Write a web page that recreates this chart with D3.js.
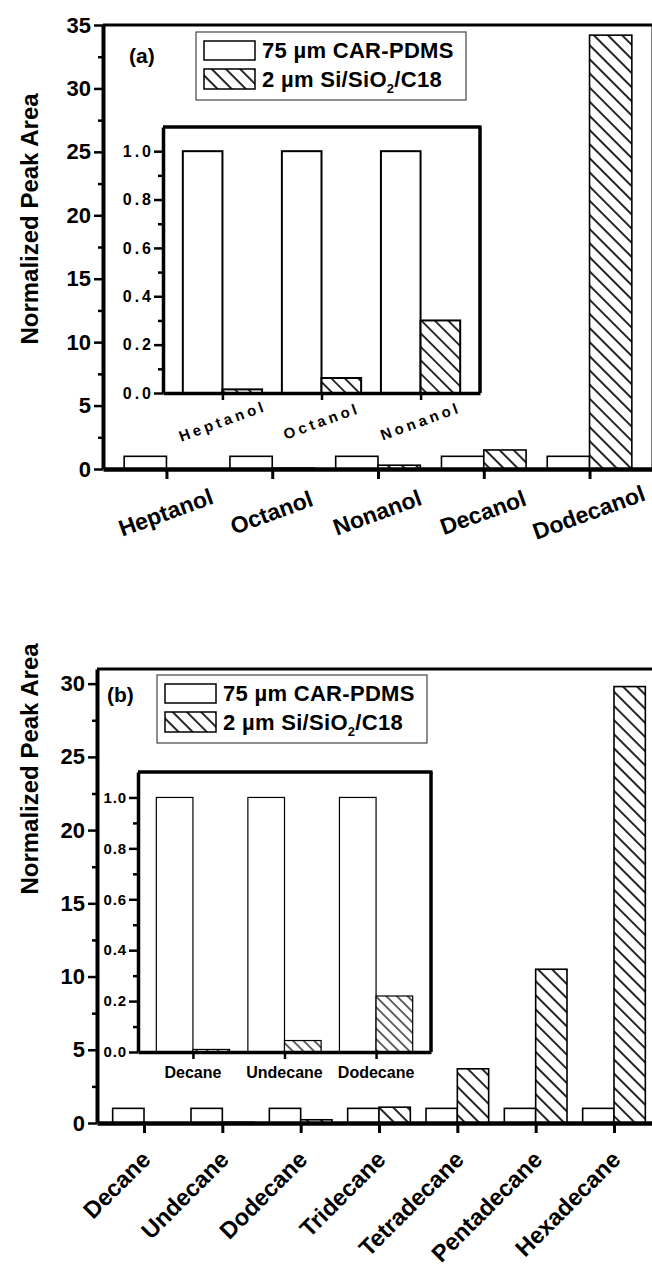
<!DOCTYPE html>
<html>
<head>
<meta charset="utf-8">
<script src="https://cdnjs.cloudflare.com/ajax/libs/d3/7.8.5/d3.min.js"></script>
<style>
  body { margin: 0; background: #fff; }
  text { font-family: "Liberation Sans", Arial, sans-serif; font-weight: bold; }
</style>
</head>
<body>
<script>
// values (normalized to CAR-PDMS = 1)
const alcohols = ["Heptanol", "Octanol", "Nonanol", "Decanol", "Dodecanol"];
const alcoholCar = [1, 1, 1, 1, 1];
const alcoholSi = [0.015, 0.065, 0.3, 1.5, 34.2];
const alcoholInset = ["Heptanol", "Octanol", "Nonanol"];
const alcoholInsetCar = [1, 1, 1];
const alcoholInsetSi = [0.015, 0.062, 0.3];

const alkanes = ["Decane", "Undecane", "Dodecane", "Tridecane", "Tetradecane", "Pentadecane", "Hexadecane"];
const alkaneCar = [1, 1, 1, 1, 1, 1, 1];
const alkaneSi = [0.008, 0.045, 0.22, 1.08, 3.7, 10.5, 29.8];
const alkaneInset = ["Decane", "Undecane", "Dodecane"];
const alkaneInsetCar = [1, 1, 1];
const alkaneInsetSi = [0.01, 0.045, 0.22];

const ticksA = [0, 5, 10, 15, 20, 25, 30, 35];
const ticksB = [0, 5, 10, 15, 20, 25, 30];
const insetTicks = [0, 0.2, 0.4, 0.6, 0.8, 1.0];
const seriesNames = ["75 µm CAR-PDMS", "2 µm Si/SiO", "2", "/C18"];

const svg = d3.select("body").append("svg")
    .attr("width", 652)
    .attr("height", 1268);
const defs = svg.append("defs");

function hatch(id, gap, sw) {
  const p = defs.append("pattern")
      .attr("id", id)
      .attr("patternUnits", "userSpaceOnUse")
      .attr("width", gap).attr("height", gap)
      .attr("patternTransform", "rotate(-45)");
  p.append("rect").attr("width", gap).attr("height", gap).attr("fill", "#fff");
  p.append("line")
      .attr("x1", gap / 2).attr("x2", gap / 2)
      .attr("y1", 0).attr("y2", gap)
      .attr("stroke", "#000").attr("stroke-width", sw);
}
hatch("hatchBig", 10, 1.7);
hatch("hatchInset", 9.5, 1.6);
hatch("hatchSmall", 7.5, 1.2);

function styleAxis(a, sw, tw, fs) {
  a.attr("font-family", null).attr("font-size", fs);
  a.select(".domain").attr("stroke-width", sw);
  a.selectAll(".tick line").attr("stroke-width", tw);
  a.selectAll("text").attr("fill", "#000").attr("font-size", fs);
}

function drawBars(g, x, y, car, si, sw, fillId) {
  const bw = x(1) - x(0.6);
  g.selectAll(null).data(car).enter().append("rect")
      .attr("x", (d, i) => x(i + 0.6))
      .attr("y", d => y(d))
      .attr("width", bw)
      .attr("height", d => y(0) - y(d))
      .attr("fill", "#fff")
      .attr("stroke", "#000")
      .attr("stroke-width", sw);
  g.selectAll(null).data(si).enter().append("rect")
      .attr("x", (d, i) => x(i + 1))
      .attr("y", d => y(d))
      .attr("width", bw)
      .attr("height", d => y(0) - y(d))
      .attr("fill", `url(#${fillId})`)
      .attr("stroke", "#000")
      .attr("stroke-width", sw);
}

function mainPanel(o) {
  const g = svg.append("g");
  const n = o.names.length;
  const x = d3.scaleLinear().domain([0.4, n + 0.6]).range([o.left, o.right]);
  const y = d3.scaleLinear().domain([0, o.yMax]).range([o.bottom, o.top]);

  drawBars(g, x, y, o.car, o.si, 1.6, "hatchBig");

  // frame
  g.append("line").attr("x1", o.left).attr("x2", o.right)
      .attr("y1", o.top).attr("y2", o.top)
      .attr("stroke", "#000").attr("stroke-width", 3);
  g.append("line").attr("x1", o.right).attr("x2", o.right)
      .attr("y1", o.top).attr("y2", o.bottom)
      .attr("stroke", "#000").attr("stroke-width", 3);

  const minor = o.ticks.slice(0, -1).map(d => d + 2.5);
  if (o.yMax - o.ticks[o.ticks.length - 1] >= 2.5) minor.push(o.ticks[o.ticks.length - 1] + 2.5);
  const yMinor = g.append("g").attr("transform", `translate(${o.left},0)`)
      .call(d3.axisLeft(y).tickValues(minor).tickSize(5).tickFormat(""));
  yMinor.select(".domain").remove();
  yMinor.selectAll(".tick line").attr("stroke-width", 2.5);

  const yAx = g.append("g").attr("transform", `translate(${o.left},0)`)
      .call(d3.axisLeft(y).tickValues(o.ticks).tickSize(9).tickSizeOuter(0).tickPadding(3));
  styleAxis(yAx, 4, 2.5, 22);

  const xAx = g.append("g").attr("transform", `translate(0,${o.bottom})`)
      .call(d3.axisBottom(x).tickValues(d3.range(1, n + 1)).tickSize(10).tickSizeOuter(0).tickFormat(""));
  styleAxis(xAx, 4.5, 3, 10);

  g.selectAll(".cat").data(o.names).enter().append("text")
      .attr("class", "cat")
      .attr("font-size", o.labelSize)
      .attr("text-anchor", o.anchor)
      .attr("transform", (d, i) => `translate(${x(i + 1) + o.labelDx},${o.bottom + o.labelDy}) rotate(${o.angle})`)
      .text(d => d);

  g.append("text")
      .attr("font-size", 24)
      .attr("text-anchor", "middle")
      .attr("transform", `translate(${o.titleX},${o.titleY}) rotate(-90)`)
      .text("Normalized Peak Area");

  g.append("text")
      .attr("x", o.tagX).attr("y", o.tagY)
      .attr("font-size", 21)
      .text(o.tag);

  // legend
  const lg = g.append("g").attr("transform", `translate(${o.legX},${o.legY})`);
  lg.append("rect").attr("width", 270).attr("height", 68)
      .attr("fill", "#fff").attr("stroke", "#444").attr("stroke-width", 1.2);
  lg.append("rect").attr("x", 8).attr("y", 9).attr("width", 51).attr("height", 19)
      .attr("fill", "#fff").attr("stroke", "#000").attr("stroke-width", 1.5);
  lg.append("rect").attr("x", 8).attr("y", 37).attr("width", 51).attr("height", 20)
      .attr("fill", "url(#hatchBig)").attr("stroke", "#000").attr("stroke-width", 1.5);
  lg.append("text").attr("x", 66).attr("y", 26).attr("font-size", 22)
      .attr("letter-spacing", 0.3).text(seriesNames[0]);
  const t2 = lg.append("text").attr("x", 66).attr("y", 55).attr("font-size", 22)
      .attr("letter-spacing", 0.3);
  t2.append("tspan").text(seriesNames[1]);
  t2.append("tspan").attr("font-size", 13).attr("dy", 6).text(seriesNames[2]);
  t2.append("tspan").attr("dy", -6).text(seriesNames[3]);
}

function insetPanel(o) {
  const g = svg.append("g");
  const n = o.names.length;
  const x = d3.scaleLinear().domain([0.4, n + 0.6]).range([o.left, o.right]);
  const y = d3.scaleLinear().domain([0, 1.1]).range([o.bottom, o.top]);

  drawBars(g, x, y, o.car, o.si, o.barStroke, o.fillId);

  g.append("line").attr("x1", o.left).attr("x2", o.right + 1.5)
      .attr("y1", o.top).attr("y2", o.top)
      .attr("stroke", "#000").attr("stroke-width", 3.5);
  g.append("line").attr("x1", o.right).attr("x2", o.right)
      .attr("y1", o.top).attr("y2", o.bottom)
      .attr("stroke", "#000").attr("stroke-width", 3.5);

  const yMinor = g.append("g").attr("transform", `translate(${o.left},0)`)
      .call(d3.axisLeft(y).tickValues([0.1, 0.3, 0.5, 0.7, 0.9]).tickSize(5).tickFormat(""));
  yMinor.select(".domain").remove();
  yMinor.selectAll(".tick line").attr("stroke-width", 2.5);

  const yAx = g.append("g").attr("transform", `translate(${o.left},0)`)
      .call(d3.axisLeft(y).tickValues(insetTicks).tickSize(9).tickSizeOuter(0)
        .tickPadding(3).tickFormat(d3.format(".1f")));
  styleAxis(yAx, 3.5, 2.5, o.tickSize);
  yAx.selectAll("text").attr("letter-spacing", o.spacing).attr("dx", o.spacing);

  const xAx = g.append("g").attr("transform", `translate(0,${o.bottom})`)
      .call(d3.axisBottom(x).tickValues(d3.range(1, n + 1)).tickSize(7).tickSizeOuter(0).tickFormat(""));
  styleAxis(xAx, 3.5, 2.5, 10);

  g.selectAll(".icat").data(o.names).enter().append("text")
      .attr("font-size", o.labelSize)
      .attr("letter-spacing", o.labelSpacing)
      .attr("text-anchor", "middle")
      .attr("transform", (d, i) => `translate(${x(i + 1) + o.labelDx},${o.bottom + o.labelDy}) rotate(${o.angle})`)
      .text(d => d);
}

mainPanel({
  names: alcohols, car: alcoholCar, si: alcoholSi, ticks: ticksA, yMax: 35,
  left: 103, right: 653, top: 25, bottom: 469,
  labelSize: 23, anchor: "middle", angle: -20, labelDx: 2, labelDy: 51,
  titleX: 38, titleY: 219, tag: "(a)", tagX: 129, tagY: 63,
  legX: 196, legY: 32
});
insetPanel({
  names: alcoholInset, car: alcoholInsetCar, si: alcoholInsetSi,
  left: 163, right: 480, top: 127, bottom: 393,
  barStroke: 2, fillId: "hatchInset", spacing: 3, tickSize: 16,
  labelSize: 15, labelSpacing: 3.5, angle: -20, labelDx: 2, labelDy: 33
});

mainPanel({
  names: alkanes, car: alkaneCar, si: alkaneSi, ticks: ticksB, yMax: 31,
  left: 97, right: 661, top: 669, bottom: 1123,
  labelSize: 23.5, anchor: "end", angle: -45, labelDx: 8, labelDy: 38,
  titleX: 38, titleY: 769, tag: "(b)", tagX: 107, tagY: 702,
  legX: 157, legY: 675
});
insetPanel({
  names: alkaneInset, car: alkaneInsetCar, si: alkaneInsetSi,
  left: 138, right: 431, top: 772, bottom: 1052,
  barStroke: 1.2, fillId: "hatchSmall", spacing: 0.8, tickSize: 15,
  labelSize: 16, labelSpacing: 0, angle: 0, labelDx: 0, labelDy: 26
});
</script>
</body>
</html>
